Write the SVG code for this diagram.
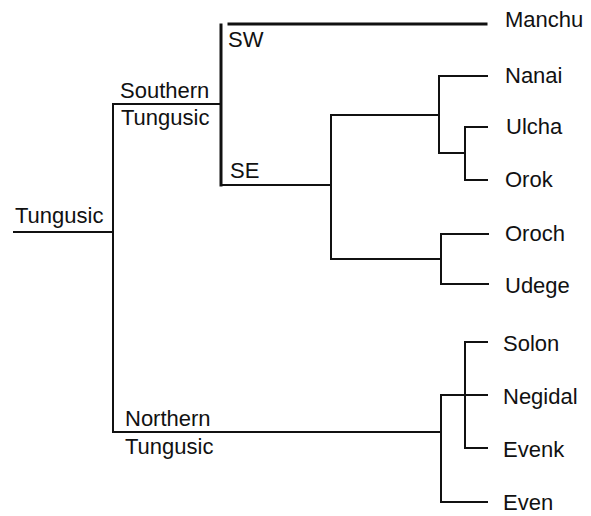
<svg xmlns="http://www.w3.org/2000/svg" width="591" height="516" viewBox="0 0 591 516">
  <style>
    .bg { fill: #ffffff; }
    .edge { fill: none; stroke: #111111; stroke-width: 2; stroke-linecap: square; stroke-linejoin: miter; }
    .heavy { stroke-width: 3; }
    text { font-family: "Liberation Sans", Arial, sans-serif; font-size: 22px; fill: #111111; }
  </style>
  <rect class="bg" x="0" y="0" width="591" height="516"/>

  <!-- branches of the tree -->
  <g id="connectors">
    <!-- root -->
    <path class="edge" d="M14 232 H113"/>
    <path class="edge" d="M113 104 V432"/>
    <!-- Southern Tungusic -->
    <path class="edge" d="M113 104 H221"/>
    <path class="edge heavy" d="M221 25 V185"/>
    <path class="edge heavy" d="M229 24 H486"/>
    <path class="edge" d="M221 185 H331"/>
    <!-- SE split -->
    <path class="edge" d="M331 115 V259"/>
    <path class="edge" d="M331 115 H439"/>
    <path class="edge" d="M439 76 V153"/>
    <path class="edge" d="M439 76 H487"/>
    <path class="edge" d="M439 153 H465"/>
    <path class="edge" d="M465 127 V180"/>
    <path class="edge" d="M465 127 H487"/>
    <path class="edge" d="M465 180 H487"/>
    <path class="edge" d="M331 259 H441"/>
    <path class="edge" d="M441 234 V284"/>
    <path class="edge" d="M441 234 H488"/>
    <path class="edge" d="M441 284 H488"/>
    <!-- Northern Tungusic -->
    <path class="edge" d="M113 432 H441"/>
    <path class="edge" d="M441 395 V502"/>
    <path class="edge" d="M441 395 H487"/>
    <path class="edge" d="M441 502 H487"/>
    <path class="edge" d="M465 342 V448"/>
    <path class="edge" d="M465 342 H487"/>
    <path class="edge" d="M465 448 H487"/>
  </g>

  <!-- internal group labels -->
  <g id="tungusic"><text x="15" y="223">Tungusic</text></g>
  <g id="southern-tungusic">
    <text x="120" y="98">Southern</text>
    <text x="121" y="125">Tungusic</text>
  </g>
  <g id="sw"><text x="228" y="47">SW</text></g>
  <g id="se"><text x="230" y="178">SE</text></g>
  <g id="northern-tungusic">
    <text x="125" y="426">Northern</text>
    <text x="125" y="454">Tungusic</text>
  </g>

  <!-- languages -->
  <g id="manchu"><text x="505" y="27">Manchu</text></g>
  <g id="nanai"><text x="505" y="83">Nanai</text></g>
  <g id="ulcha"><text x="506" y="134">Ulcha</text></g>
  <g id="orok"><text x="505" y="187">Orok</text></g>
  <g id="oroch"><text x="505" y="241">Oroch</text></g>
  <g id="udege"><text x="505" y="293">Udege</text></g>
  <g id="solon"><text x="503" y="351">Solon</text></g>
  <g id="negidal"><text x="503" y="404">Negidal</text></g>
  <g id="evenk"><text x="503" y="457">Evenk</text></g>
  <g id="even"><text x="503" y="510">Even</text></g>
</svg>
